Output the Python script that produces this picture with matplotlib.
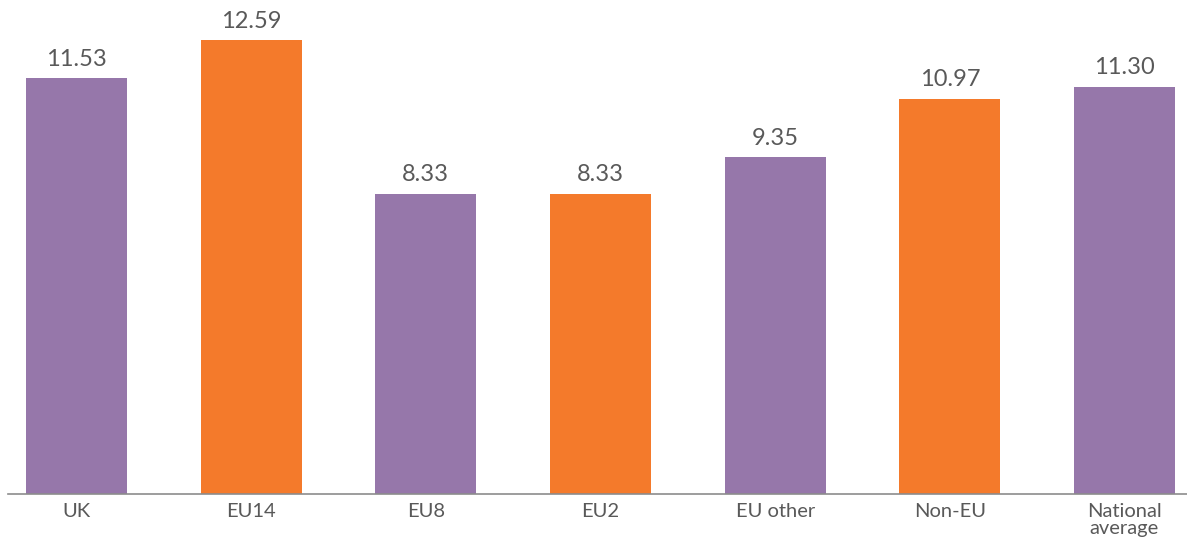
import matplotlib.pyplot as plt
import numpy as np

# Дані
categories = ['UK', 'EU14', 'EU8', 'EU2', 'EU other', 'Non-EU', 'National\naverage']
values = [11.53, 12.59, 8.33, 8.33, 9.35, 10.97, 11.30]
colors = ['#9677AA', '#F47A2B', '#9677AA', '#F47A2B', '#9677AA', '#F47A2B', '#9677AA']

plt.rcParams['font.family'] = ['Lato', 'DejaVu Sans']

fig = plt.figure(figsize=(11.87, 5.4), dpi=100)
ax = fig.add_axes([8 / 1187, 46.5 / 540, 1 - 8 / 1187, 493.5 / 540])

x = np.arange(len(categories))
bars = ax.bar(x, values, width=0.578, color=colors)

for xi, v in zip(x, values):
    ax.annotate(f'{v:.2f}', (xi, v), xytext=(0, 6), textcoords='offset points',
                ha='center', va='bottom', fontsize=17, color='#595959')

ax.set_xlim(-0.392, 6.358)
ax.set_ylim(0, 13.71)
ax.set_xticks(x)
ax.set_xticklabels(categories, fontsize=14.5, color='#595959', linespacing=0.95)
ax.tick_params(axis='x', length=0, pad=7)
ax.set_yticks([])
for s in ['top', 'right', 'left']:
    ax.spines[s].set_visible(False)
ax.spines['bottom'].set_color('#8c8c8c')
ax.spines['bottom'].set_linewidth(1.2)

fig.savefig('out.png', dpi=100)
